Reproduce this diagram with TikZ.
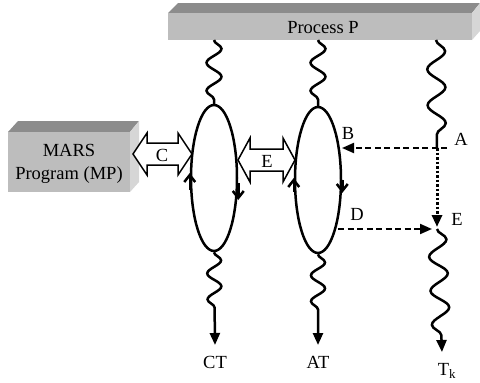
\documentclass[tikz,border=0pt]{standalone}
\usepackage{fontspec}
\setmainfont{Liberation Serif}
\usetikzlibrary{shapes.geometric,arrows.meta,decorations.pathmorphing}
\definecolor{boxfront}{HTML}{BDBDBD}
\definecolor{boxtop}{HTML}{8C8C8C}
\definecolor{boxside}{HTML}{D6D6D6}
\begin{document}
\begin{tikzpicture}[x=1pt,y=-1pt,
  font=\fontsize{18.5}{20}\selectfont,
  lbl/.style={inner sep=0pt},
  wave/.style={line width=2.5pt, decorate,
    decoration={snake, amplitude=7.5pt, segment length=28pt}},
  tip/.style={-{Triangle[length=12pt,width=10pt]}},
  loop/.style={ellipse, draw, line width=2.5pt, minimum width=46pt, minimum height=146pt, inner sep=0pt},
  dir/.style={line width=2.5pt, -{Straight Barb[length=7pt,width=11pt]}},
  dashline/.style={line width=2pt, dash pattern=on 6pt off 3.5pt, tip},
  dotline/.style={line width=3pt, dash pattern=on 2.5pt off 2pt, tip},
  twoway/.style={draw, fill=white, line width=1.5pt},
]
\useasboundingbox (0,0) rectangle (480,383);
% Process P box
\fill[boxtop] (168,13) -- (178,3) -- (480,3) -- (472,13) -- cycle;
\fill[boxside] (472,13) -- (480,3) -- (480,31) -- (472,40) -- cycle;
\fill[boxfront] (168,13) rectangle (472,40);
\node[lbl] (P) at (323,28) {Process P};
% MARS box
\fill[boxtop] (8,132) -- (18,121) -- (139,121) -- (130,132) -- cycle;
\fill[boxside] (130,132) -- (139,121) -- (139,182) -- (130,192) -- cycle;
\fill[boxfront] (8,132) rectangle (130,192);
\node[lbl, align=center] (MP) at (69,164) {MARS\\[3pt]Program (MP)};
% loops
\node[loop] (L1) at (214,178) {};
\node[loop] (L2) at (318,180) {};
\draw[dir] ([yshift=-12pt]L1.west) -- ([yshift=5pt]L1.west);
\draw[dir] ([yshift=-5pt]L1.east) -- ([yshift=-22pt]L1.east);
\draw[dir] ([yshift=-12pt]L2.west) -- ([yshift=2pt]L2.west);
\draw[dir] ([yshift=0pt]L2.east) -- ([yshift=-13pt]L2.east);
% coordinates
\coordinate (t1) at (214,40);
\coordinate (t2) at (318,40);
\coordinate (t3) at (436,40);
\coordinate (A) at (437,148);
\coordinate (Ein) at (437,229);
\coordinate (ct) at (215,345);
\coordinate (at) at (318,345);
\coordinate (tk) at (442,352);
% waves
\draw[wave] (t1) -- (L1.north);
\draw[wave] (t2) -- (L2.north);
\draw[wave, decoration={snake, amplitude=9pt, segment length=36pt}] (t3) -- (A);
\draw[wave, tip, decoration={snake, amplitude=7pt, segment length=26pt, post length=30pt}] (L1.south) -- (ct);
\draw[wave, tip, decoration={snake, amplitude=7pt, segment length=26pt, post length=30pt}] (L2.south) -- (at);
\draw[wave, tip, decoration={snake, amplitude=9pt, segment length=34pt, post length=14pt}] (Ein) -- (tk);
% labels
\node[lbl] (CT) at (215,362) {CT};
\node[lbl] (AT) at (318,362) {AT};
\node[lbl] (Tk) at (447,371) {T\textsubscript{k}};
\node[lbl] (lA) at (461,139) {A};
\node[lbl] (lB) at (348,133) {B};
\node[lbl] (lD) at (357,214) {D};
\node[lbl] (lE) at (457,219) {E};
% dashed connectors
\coordinate (Astart) at (447,148);
\coordinate (Bend) at (342,148);
\coordinate (Dstart) at (338,229);
\coordinate (Dend) at (432,229);
\coordinate (Eend) at (437,227);
\draw[dashline] (Astart) -- (Bend);
\draw[dotline] (A) -- (Eend);
\draw[dashline] (Dstart) -- (Dend);
% double arrows
\draw[twoway] (133,154) -- (147,133) -- (147,143) -- (178,143) -- (178,133) -- (192,154)
  -- (178,175) -- (178,165) -- (147,165) -- (147,175) -- cycle;
\node[lbl] (C) at (162,155) {C};
\draw[twoway] (238,160) -- (250,138) -- (250,149) -- (283,149) -- (283,138) -- (295,160)
  -- (283,182) -- (283,171) -- (250,171) -- (250,182) -- cycle;
\node[lbl] (E2) at (267,161) {E};
\end{tikzpicture}
\end{document}
